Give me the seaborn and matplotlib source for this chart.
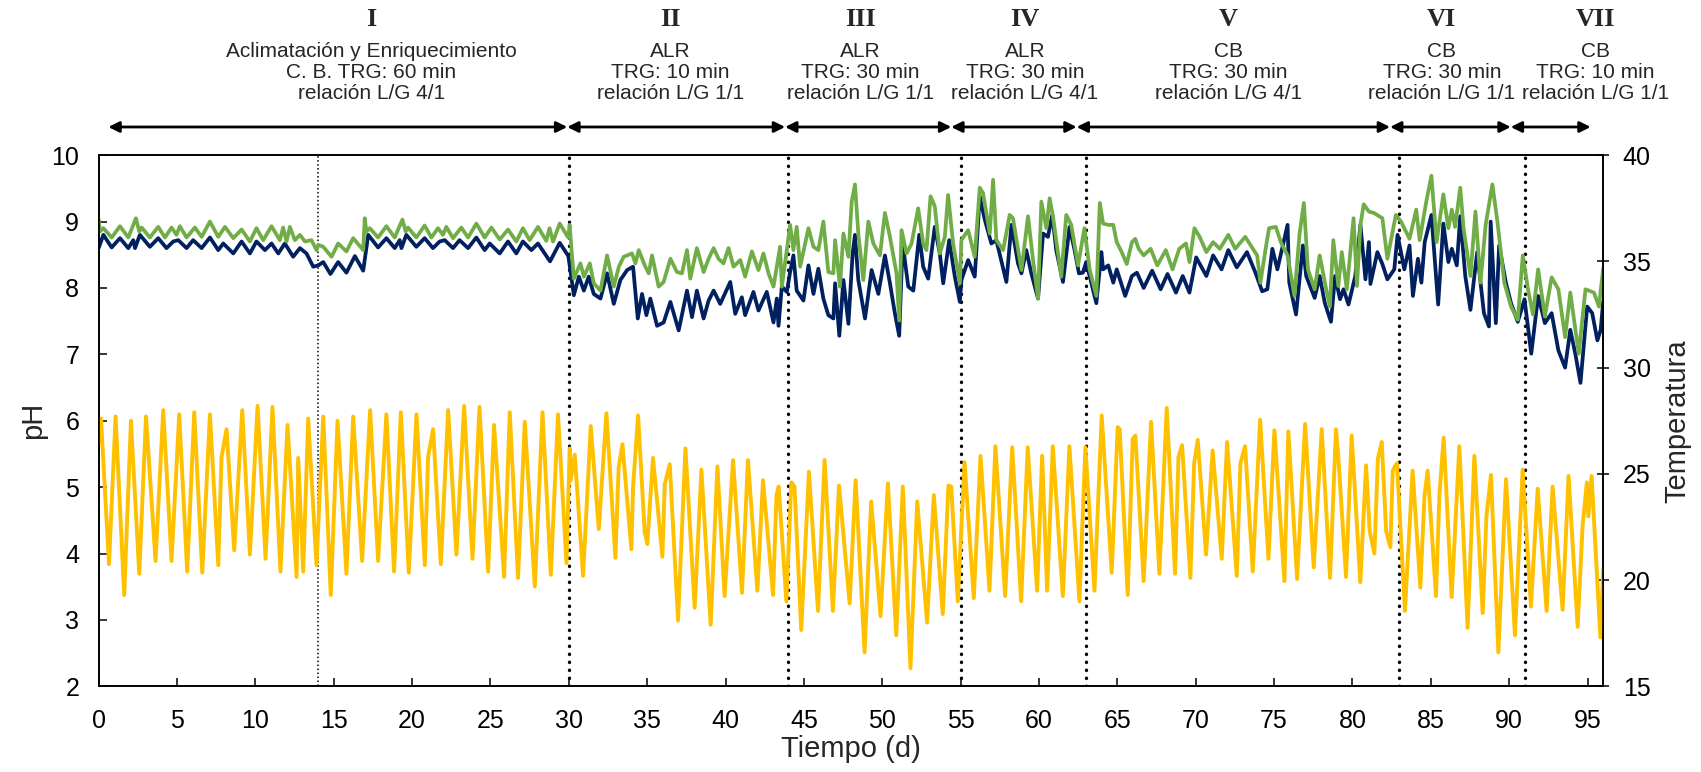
import matplotlib
matplotlib.use("Agg")
import matplotlib.pyplot as plt
import matplotlib.transforms as mtransforms
import pandas as pd
import seaborn as sns

# ---------------- data (day, value) ----------------
green_I = [(0.0, 9.04), (0.08, 8.85), (0.30, 8.90), (0.83, 8.76), (1.36, 8.93), (1.89, 8.76), (2.38, 9.05),
           (2.59, 8.85), (2.74, 8.91), (3.27, 8.76), (3.80, 8.92), (4.23, 8.76), (4.65, 8.91), (4.97, 8.80),
           (5.18, 8.93), (5.61, 8.76), (6.14, 8.91), (6.57, 8.77), (7.10, 9.00), (7.63, 8.77), (8.06, 8.92),
           (8.59, 8.75), (9.12, 8.88), (9.65, 8.70), (10.07, 8.90), (10.50, 8.72), (11.03, 8.93), (11.56, 8.72),
           (11.77, 8.91), (11.99, 8.70), (12.20, 8.92), (12.52, 8.72), (12.84, 8.80), (13.16, 8.70), (13.58, 8.72),
           (13.90, 8.57), (14.01, 8.65), (14.33, 8.62), (14.86, 8.47), (15.28, 8.67), (15.81, 8.55), (16.24, 8.75),
           (16.88, 8.57), (16.98, 9.05), (17.08, 8.85), (17.30, 8.90), (17.83, 8.76), (18.36, 8.93), (18.89, 8.76),
           (19.38, 9.03), (19.59, 8.85), (19.74, 8.91), (20.27, 8.76), (20.80, 8.94), (21.23, 8.76), (21.65, 8.90),
           (21.97, 8.80), (22.18, 8.92), (22.61, 8.75), (23.14, 8.91), (23.57, 8.76), (24.10, 8.97), (24.63, 8.76),
           (25.06, 8.91), (25.59, 8.73), (26.12, 8.88), (26.65, 8.70), (27.07, 8.90), (27.50, 8.72), (28.03, 8.92),
           (28.56, 8.71), (28.77, 8.90), (28.99, 8.70), (29.42, 8.97), (29.85, 8.80), (29.97, 8.76), (30.05, 8.95)]
green_II = [(30.32, 8.14), (30.74, 8.37), (30.96, 8.17), (31.34, 8.37), (31.59, 8.07), (32.02, 7.96), (32.44, 8.49),
            (32.87, 8.02), (33.19, 8.32), (33.50, 8.47), (34.03, 8.52), (34.25, 8.37), (34.46, 8.57), (34.88, 8.32),
            (35.10, 8.22), (35.31, 8.49), (35.73, 8.02), (36.05, 8.09), (36.48, 8.44), (36.90, 8.24), (37.22, 8.22),
            (37.54, 8.57), (37.75, 8.14), (38.17, 8.60), (38.60, 8.24), (38.92, 8.44), (39.24, 8.60), (39.55, 8.44),
            (39.87, 8.37), (40.19, 8.60), (40.51, 8.32), (40.94, 8.42), (41.25, 8.17), (41.68, 8.55), (42.10, 8.27),
            (42.42, 8.52), (42.74, 8.22), (43.06, 8.02), (43.48, 8.62), (43.59, 8.02), (43.91, 8.57)]
green_III = [(44.12, 8.95), (44.33, 8.57), (44.54, 8.92), (44.76, 8.32), (45.29, 8.90), (45.61, 8.62), (45.92, 8.57),
             (46.24, 9.00), (46.56, 8.24), (46.88, 8.22), (46.99, 8.72), (47.30, 8.02), (47.52, 8.82), (47.84, 8.47),
             (48.05, 9.30), (48.26, 9.56), (48.47, 8.82), (48.79, 8.12), (49.11, 9.00), (49.43, 8.67), (49.85, 8.49),
             (50.17, 9.13), (50.49, 8.77), (50.91, 8.22), (51.08, 7.51), (51.23, 8.87), (51.55, 8.52), (51.87, 8.67),
             (52.29, 9.20), (52.61, 8.67), (52.82, 8.57), (53.08, 9.38), (53.35, 9.23), (53.67, 8.52), (53.99, 8.77),
             (54.20, 9.40), (54.52, 8.67), (54.95, 8.07)]
green_IV = [(55.05, 8.72), (55.48, 8.87), (55.90, 8.47), (56.22, 9.51), (56.43, 9.43), (56.86, 8.82), (57.07, 9.63),
            (57.28, 8.72), (57.71, 8.57), (58.13, 9.10), (58.34, 9.05), (58.88, 8.27), (59.30, 9.08), (59.62, 8.42),
            (59.94, 7.84), (60.15, 9.30), (60.47, 8.90), (60.68, 9.35), (60.89, 9.08), (61.42, 8.17), (61.74, 9.10),
            (62.06, 8.95), (62.49, 8.34), (62.90, 8.90)]
green_V = [(63.23, 8.28), (63.66, 7.88), (63.88, 9.28), (64.09, 8.97), (64.42, 8.95), (64.74, 8.95), (64.96, 8.69),
           (65.28, 8.54), (65.60, 8.36), (65.93, 8.69), (66.14, 8.74), (66.36, 8.59), (66.68, 8.49), (67.12, 8.59),
           (67.55, 8.34), (68.09, 8.57), (68.52, 8.28), (68.95, 8.59), (69.38, 8.67), (69.60, 8.39), (69.92, 8.90),
           (70.25, 8.77), (70.68, 8.54), (71.11, 8.69), (71.54, 8.59), (72.08, 8.80), (72.52, 8.59), (73.16, 8.77),
           (73.92, 8.49), (74.13, 8.08), (74.46, 8.59), (74.68, 8.90), (75.11, 8.92), (75.43, 8.69), (75.86, 8.49),
           (76.30, 7.88), (76.62, 8.80), (76.90, 9.28), (77.16, 8.28), (77.59, 7.98), (77.91, 8.49), (78.35, 7.95),
           (78.56, 7.72), (78.78, 8.72), (79.10, 8.03), (79.32, 8.54), (79.64, 7.98), (80.07, 9.05), (80.29, 8.03),
           (80.51, 8.95), (80.72, 9.26), (81.05, 9.15), (81.37, 9.13), (81.91, 9.05), (82.23, 8.44), (82.77, 9.10)]
green_VI = [(83.10, 9.00), (83.64, 8.74), (84.07, 9.18), (84.29, 8.72), (84.72, 9.31), (85.04, 9.69), (85.37, 8.69),
            (85.80, 9.41), (86.12, 8.90), (86.34, 9.18), (86.55, 8.92), (86.88, 9.51), (87.09, 8.90), (87.53, 8.18),
            (87.85, 9.15), (88.17, 8.08), (88.50, 8.95), (88.93, 9.56), (89.25, 9.00), (89.69, 8.08), (90.12, 7.72),
            (90.55, 7.52), (90.87, 8.49)]
green_VII = [(91.20, 7.98), (91.52, 7.60), (91.85, 8.28), (92.28, 7.57), (92.71, 8.16), (93.14, 7.98), (93.57, 7.26),
             (93.90, 7.93), (94.44, 7.01), (94.87, 7.98), (95.41, 7.93), (95.73, 7.72), (96.00, 8.30)]

navy_I = [(0.0, 8.60), (0.30, 8.80), (0.83, 8.61), (1.36, 8.75), (1.89, 8.60), (2.21, 8.72), (2.32, 8.60),
          (2.63, 8.80), (3.27, 8.62), (3.80, 8.75), (4.33, 8.60), (4.76, 8.70), (5.08, 8.72), (5.61, 8.60),
          (6.03, 8.72), (6.57, 8.60), (7.10, 8.76), (7.63, 8.57), (7.95, 8.67), (8.59, 8.52), (9.12, 8.70),
          (9.65, 8.52), (10.07, 8.70), (10.61, 8.57), (11.03, 8.67), (11.46, 8.52), (11.88, 8.67), (12.41, 8.47),
          (12.84, 8.60), (13.26, 8.52), (13.69, 8.32), (14.01, 8.34), (14.33, 8.39), (14.79, 8.21), (15.28, 8.39),
          (15.81, 8.23), (16.35, 8.48), (16.88, 8.26), (17.20, 8.80), (17.83, 8.61), (18.36, 8.75), (18.89, 8.60),
          (19.21, 8.72), (19.32, 8.60), (19.63, 8.80), (20.27, 8.62), (20.80, 8.75), (21.33, 8.60), (21.76, 8.70),
          (22.08, 8.72), (22.61, 8.60), (23.03, 8.72), (23.57, 8.60), (24.10, 8.76), (24.63, 8.57), (24.95, 8.67),
          (25.59, 8.52), (26.12, 8.70), (26.65, 8.52), (27.07, 8.70), (27.61, 8.57), (28.03, 8.67), (28.46, 8.52),
          (28.80, 8.40), (29.42, 8.68), (29.97, 8.48)]
navy_II = [(30.32, 7.89), (30.64, 8.17), (30.96, 7.96), (31.27, 8.17), (31.59, 7.91), (32.02, 7.84), (32.44, 8.22),
           (32.87, 7.76), (33.29, 8.12), (33.72, 8.27), (34.10, 8.32), (34.40, 7.54), (34.67, 7.91), (34.95, 7.59),
           (35.20, 7.84), (35.63, 7.43), (36.05, 7.48), (36.48, 7.79), (37.01, 7.36), (37.54, 7.96), (37.86, 7.56),
           (38.17, 7.96), (38.60, 7.54), (38.92, 7.81), (39.24, 7.96), (39.66, 7.76), (40.30, 8.09), (40.62, 7.61),
           (41.04, 7.86), (41.25, 7.59), (41.78, 7.94), (42.10, 7.66), (42.63, 7.94), (43.06, 7.48), (43.27, 7.84),
           (43.38, 7.43), (43.59, 8.02), (43.91, 7.94)]
navy_III = [(44.12, 8.24), (44.33, 8.49), (44.54, 7.96), (44.97, 7.81), (45.29, 8.34), (45.61, 7.91), (45.92, 8.29),
            (46.24, 7.84), (46.56, 7.59), (46.88, 7.54), (46.99, 8.07), (47.26, 7.28), (47.52, 8.12), (47.84, 7.46),
            (48.11, 8.52), (48.26, 8.80), (48.47, 8.12), (48.90, 7.54), (49.32, 8.27), (49.75, 7.91), (50.17, 8.49),
            (50.49, 8.07), (50.81, 7.61), (51.08, 7.28), (51.30, 8.67), (51.66, 8.02), (51.98, 7.96), (52.36, 8.80),
            (52.61, 8.32), (52.93, 8.14), (53.35, 8.92), (53.67, 8.52), (53.89, 8.07), (54.27, 8.72), (54.63, 8.17),
            (54.95, 7.79)]
navy_IV = [(55.05, 8.12), (55.48, 8.42), (55.90, 8.17), (56.22, 9.38), (56.54, 9.03), (56.96, 8.67), (57.28, 8.72),
           (57.92, 8.09), (58.24, 8.95), (58.66, 8.37), (58.88, 8.22), (59.19, 8.57), (59.51, 8.22), (59.94, 7.84),
           (60.26, 8.82), (60.57, 8.77), (60.85, 9.10), (61.10, 8.57), (61.53, 8.09), (61.95, 8.92), (62.27, 8.57),
           (62.55, 8.22), (62.80, 8.23)]
navy_V = [(63.01, 8.39), (63.66, 7.77), (63.98, 8.54), (64.09, 8.28), (64.42, 8.34), (64.74, 8.08), (64.96, 8.28),
          (65.50, 7.88), (65.93, 8.18), (66.25, 8.23), (66.68, 8.00), (67.22, 8.26), (67.76, 7.98), (68.20, 8.21),
          (68.74, 7.93), (69.17, 8.18), (69.60, 7.93), (70.03, 8.46), (70.68, 8.18), (71.11, 8.49), (71.65, 8.28),
          (72.08, 8.57), (72.62, 8.31), (73.27, 8.54), (73.81, 8.23), (74.24, 7.95), (74.57, 7.98), (74.89, 8.59),
          (75.21, 8.28), (75.86, 8.95), (75.97, 8.08), (76.40, 7.60), (76.84, 8.64), (77.05, 8.18), (77.59, 7.85),
          (77.91, 8.18), (78.24, 7.77), (78.63, 7.49), (78.89, 8.18), (79.21, 7.83), (79.43, 7.98), (79.75, 7.75),
          (80.18, 8.18), (80.51, 8.95), (80.83, 8.13), (81.05, 8.69), (81.15, 8.06), (81.59, 8.54), (81.91, 8.36),
          (82.23, 8.13), (82.67, 8.28), (82.88, 8.80)]
navy_VI = [(83.31, 8.28), (83.64, 8.64), (83.86, 7.88), (84.18, 8.44), (84.40, 8.08), (84.61, 8.69), (85.04, 9.10),
           (85.47, 7.75), (85.80, 8.97), (86.12, 8.39), (86.34, 8.59), (86.66, 8.34), (86.88, 9.08), (87.20, 8.18),
           (87.53, 7.67), (87.96, 8.54), (88.39, 7.62), (88.71, 7.42), (88.82, 9.00), (89.15, 7.47), (89.36, 8.64),
           (89.79, 8.08), (90.12, 7.77), (90.55, 7.49), (90.98, 7.83)]
navy_VII = [(91.41, 7.01), (91.85, 7.88), (92.28, 7.47), (92.71, 7.62), (93.14, 7.06), (93.57, 6.80), (93.90, 7.37),
            (94.22, 7.01), (94.55, 6.57), (94.98, 7.72), (95.30, 7.62), (95.63, 7.21), (95.84, 7.37), (96.00, 7.80)]

temp_I = [(0.0, 26.4), (0.15, 27.6), (0.66, 20.75), (1.08, 27.7), (1.63, 19.3), (2.06, 27.5), (2.59, 20.3),
          (3.02, 27.7), (3.63, 20.9), (4.12, 28.0), (4.65, 20.9), (5.14, 27.8), (5.65, 20.4), (6.10, 27.9),
          (6.61, 20.35), (7.10, 27.8), (7.63, 20.7), (7.84, 25.8), (8.16, 27.1), (8.65, 21.4), (9.16, 28.0),
          (9.65, 21.2), (10.14, 28.2), (10.65, 21.0), (11.09, 28.15), (11.60, 20.4), (12.05, 27.3), (12.63, 20.15),
          (12.73, 25.75), (13.05, 20.4), (13.37, 27.6), (13.90, 20.7), (14.33, 27.7), (14.81, 19.3), (15.24, 27.5),
          (15.81, 20.3), (16.24, 27.7), (16.81, 20.9), (17.32, 28.0), (17.83, 20.9), (18.36, 27.8), (18.85, 20.4),
          (19.28, 27.9), (19.79, 20.35), (20.28, 27.8), (20.81, 20.7), (21.02, 25.8), (21.34, 27.1), (21.83, 20.75),
          (22.30, 28.0), (22.83, 21.2), (23.32, 28.2), (23.85, 21.0), (24.30, 28.15), (24.85, 20.4), (25.23, 27.3),
          (25.87, 20.15), (26.23, 27.9), (26.76, 20.1), (27.19, 27.45), (27.83, 19.7), (28.32, 27.9), (28.85, 20.25),
          (29.31, 27.8), (29.85, 20.8)]
temp_II = [(30.06, 26.2), (30.12, 24.7), (30.38, 25.9), (30.91, 20.2), (31.40, 27.25), (31.91, 22.4), (32.40, 27.85),
           (32.97, 21.05), (33.18, 25.3), (33.42, 26.4), (33.99, 21.45), (34.10, 24.4), (34.42, 27.75), (34.84, 22.25),
           (35.01, 21.7), (35.37, 25.75), (35.97, 21.1), (36.12, 24.5), (36.44, 25.45), (36.97, 18.1), (37.44, 26.2),
           (38.03, 18.7), (38.46, 25.2), (39.05, 17.9), (39.48, 25.35), (39.94, 19.25), (40.48, 25.65), (41.05, 19.4),
           (41.43, 25.65), (42.03, 19.5), (42.39, 24.7), (43.03, 19.3), (43.25, 24.0), (43.39, 24.4), (43.88, 19.0)]
temp_III = [(44.20, 24.6), (44.40, 24.4), (44.83, 17.65), (45.32, 25.1), (45.90, 18.55), (46.32, 25.65), (46.85, 18.55),
            (47.24, 24.45), (47.92, 18.9), (48.30, 24.7), (48.87, 16.6), (49.29, 23.7), (49.89, 18.3), (50.36, 24.55),
            (50.89, 17.4), (51.31, 24.4), (51.80, 15.85), (52.23, 23.7), (52.86, 18.0), (53.29, 24.0), (53.86, 18.4),
            (54.22, 24.45), (54.40, 24.4), (54.82, 19.0)]
temp_IV = [(55.25, 25.55), (55.84, 19.15), (56.27, 25.85), (56.84, 19.5), (57.22, 26.3), (57.84, 19.25), (58.29, 26.25),
           (58.86, 19.0), (59.28, 26.25), (59.88, 19.5), (60.20, 25.85), (60.52, 19.5), (60.88, 26.3), (61.52, 19.25),
           (61.94, 26.3), (62.58, 19.0), (62.96, 26.25)]
temp_V = [(63.54, 19.5), (64.00, 27.75), (64.64, 20.35), (65.02, 27.2), (65.15, 27.1), (65.66, 19.3), (65.98, 26.65),
          (66.15, 26.8), (66.68, 19.95), (67.15, 27.45), (67.68, 20.3), (68.15, 28.1), (68.68, 20.3), (68.90, 25.8),
          (69.13, 26.35), (69.66, 20.1), (69.90, 25.5), (70.13, 26.6), (70.66, 21.2), (71.08, 26.1), (71.66, 21.0),
          (72.00, 26.5), (72.62, 20.2), (72.85, 25.5), (73.15, 26.3), (73.64, 20.4), (74.11, 27.55), (74.64, 21.0),
          (75.02, 27.05), (75.66, 19.95), (75.91, 27.0), (76.47, 20.05), (76.98, 27.35), (77.53, 20.6), (78.04, 27.1),
          (78.57, 20.1), (78.95, 27.1), (79.10, 25.8), (79.59, 20.15), (79.95, 26.8), (80.50, 19.9), (80.87, 25.4),
          (81.10, 22.3), (81.40, 21.25), (81.62, 25.7), (81.87, 26.5), (82.15, 22.3), (82.42, 21.55), (82.57, 25.15),
          (82.84, 25.5)]
temp_VI = [(83.35, 18.55), (83.84, 25.15), (84.33, 19.65), (84.60, 24.0), (84.80, 25.15), (85.33, 19.25), (85.55, 24.0),
           (85.82, 26.7), (86.33, 19.2), (86.82, 26.3), (87.35, 17.75), (87.78, 25.85), (88.31, 18.45), (88.55, 23.0),
           (88.84, 24.95), (89.31, 16.6), (89.80, 24.75), (90.37, 17.4), (90.86, 25.2)]
temp_VII = [(91.39, 18.75), (91.82, 24.3), (92.39, 18.55), (92.77, 24.4), (93.41, 18.6), (93.79, 24.9), (94.37, 17.8),
            (94.69, 22.6), (94.96, 24.6), (95.05, 23.0), (95.26, 24.9), (95.82, 17.3), (96.00, 20.5)]

# phase annotations
phase_numerals = ["I", "II", "III", "IV", "V", "VI", "VII"]
phase_texts = ["Aclimatación y Enriquecimiento\nC. B. TRG: 60 min\nrelación L/G 4/1",
               "ALR\nTRG: 10 min\nrelación L/G 1/1",
               "ALR\nTRG: 30 min\nrelación L/G 1/1",
               "ALR\nTRG: 30 min\nrelación L/G 4/1",
               "CB\nTRG: 30 min\nrelación L/G 4/1",
               "CB\nTRG: 30 min\nrelación L/G 1/1",
               "CB\nTRG: 10 min\nrelación L/G 1/1"]
phase_centers = [17.4, 36.5, 48.6, 59.1, 72.1, 85.7, 95.5]
arrow_bounds = [0.62, 29.9, 43.8, 54.4, 62.4, 82.4, 90.1, 95.2]
phase_lines = [30, 44, 55, 63, 83, 91]
thin_line = 14
x_ticks = list(range(0, 100, 5))
ph_ticks = list(range(2, 11))
temp_ticks = list(range(15, 45, 5))

# ---------------- build frames ----------------
green_df = pd.DataFrame(green_I + green_II + green_III + green_IV + green_V + green_VI + green_VII,
                        columns=["dia", "pH"])
navy_df = pd.DataFrame(navy_I + navy_II + navy_III + navy_IV + navy_V + navy_VI + navy_VII,
                       columns=["dia", "pH"])
temp_df = pd.DataFrame(temp_I + temp_II + temp_III + temp_IV + temp_V + temp_VI + temp_VII,
                       columns=["dia", "T"])

# ---------------- plot ----------------
sns.set_style("ticks")
plt.rcParams["font.family"] = ["Liberation Sans", "DejaVu Sans"]

fig = plt.figure(figsize=(17.01, 7.72), dpi=100)
ax = fig.add_axes([0.058, 0.111, 0.8845, 0.688])
ax2 = ax.twinx()

sns.lineplot(data=navy_df, x="dia", y="pH", ax=ax, color="#002060", linewidth=2.7,
             sort=False, estimator=None, zorder=3)
sns.lineplot(data=green_df, x="dia", y="pH", ax=ax, color="#70AD47", linewidth=2.7,
             sort=False, estimator=None, zorder=4)
sns.lineplot(data=temp_df, x="dia", y="T", ax=ax2, color="#FFC000", linewidth=2.8,
             sort=False, estimator=None)
for a in (ax, ax2):
    for ln in a.get_lines():
        ln.set_solid_joinstyle("round")

ax.axvline(thin_line, color="black", lw=1.1, ls=(0, (1, 1.6)), zorder=2)
for xv in phase_lines:
    ax.axvline(xv, color="black", lw=2.4, ls=(0, (0.1, 2.3)), dash_capstyle="round", zorder=2)

ax.set_xlim(0, 96)
ax.set_ylim(2, 10)
ax2.set_ylim(15, 40)
ax.set_xticks(x_ticks)
ax.set_yticks(ph_ticks)
ax2.set_yticks(temp_ticks)

for a in (ax, ax2):
    for s in a.spines.values():
        s.set_linewidth(1.2)
        s.set_color("black")
ax.tick_params(axis="both", direction="in", length=6, width=1.1, labelsize=18, colors="black")
ax.tick_params(axis="y", pad=14)
ax.tick_params(axis="x", pad=16)
ax2.tick_params(axis="y", direction="inout", length=8, width=1.1, labelsize=18, pad=10, colors="black")

ax.set_xlabel("Tiempo (d)", fontsize=21)
ax.set_ylabel("pH", fontsize=21)
ax2.set_ylabel("Temperatura", fontsize=21)
ax.xaxis.set_label_coords(0.5, -0.092)
ax.yaxis.set_label_coords(-0.034, 0.5)
ax2.yaxis.set_label_coords(1.040, 0.5)

trans = mtransforms.blended_transform_factory(ax.transData, fig.transFigure)
for i in range(len(phase_numerals)):
    ax.text(phase_centers[i], 0.975, phase_numerals[i], transform=trans, ha="center", va="center",
            fontsize=19, fontweight="bold", family="Liberation Serif", clip_on=False)
    ax.text(phase_centers[i], 0.906, phase_texts[i], transform=trans, ha="center", va="center",
            fontsize=15, linespacing=1.12, clip_on=False)
    ax.annotate("", xy=(arrow_bounds[i + 1], 0.8355), xytext=(arrow_bounds[i], 0.8355),
                xycoords=trans, textcoords=trans, annotation_clip=False,
                arrowprops=dict(arrowstyle="<|-|>", color="black", lw=2.0, mutation_scale=16,
                                shrinkA=0, shrinkB=0))

fig.savefig("out.png", dpi=100)
